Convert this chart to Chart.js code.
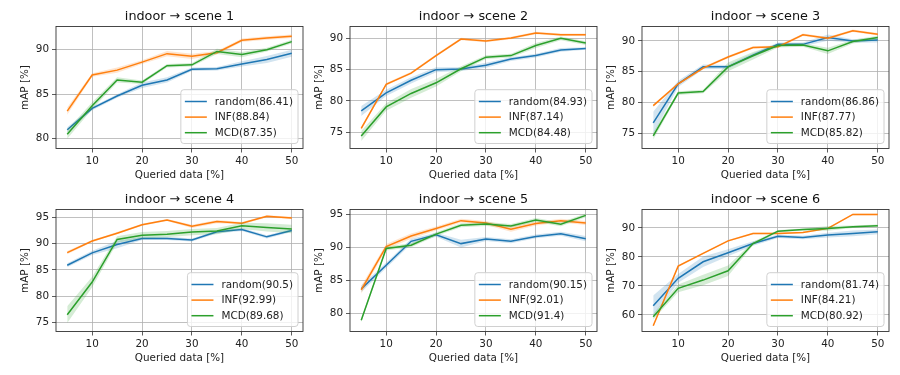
<!DOCTYPE html>
<html>
<head>
<meta charset="utf-8">
<script src="https://cdn.jsdelivr.net/npm/chart.js@4.4.1/dist/chart.umd.min.js"></script>
<style>
  body { margin: 0; background: #fff; width: 900px; height: 375px; position: relative; overflow: hidden; }
  canvas { position: absolute; }
</style>
</head>
<body>
<canvas id="c1" width="311" height="184" style="left:0px;top:0px"></canvas>
<canvas id="c2" width="311" height="184" style="left:294px;top:0px"></canvas>
<canvas id="c3" width="311" height="184" style="left:586px;top:0px"></canvas>
<canvas id="c4" width="311" height="184" style="left:0px;top:183px"></canvas>
<canvas id="c5" width="311" height="184" style="left:294px;top:183px"></canvas>
<canvas id="c6" width="311" height="184" style="left:586px;top:183px"></canvas>
<script>
// x values and labels shared by all panels
const queried = [5, 10, 15, 20, 25, 30, 35, 40, 45, 50];
const xTicks = [10, 20, 30, 40, 50];
const methods = ['random', 'INF', 'MCD'];
const colors = ['#1f77b4', '#ff7f0e', '#2ca02c'];

// scene 1
const random1 = [81.0, 83.4, 84.8, 86.0, 86.6, 87.8, 87.85, 88.4, 88.9, 89.6];
const inf1 = [83.1, 87.15, 87.7, 88.6, 89.55, 89.25, 89.65, 91.05, 91.3, 91.5];
const mcd1 = [80.5, 83.7, 86.6, 86.35, 88.2, 88.3, 89.8, 89.45, 90.0, 90.9];
const randomStd1 = [0.3, 0.2, 0.2, 0.3, 0.3, 0.2, 0.2, 0.3, 0.4, 0.4];
const infStd1 = [0.4, 0.2, 0.3, 0.2, 0.3, 0.3, 0.2, 0.2, 0.2, 0.2];
const mcdStd1 = [0.5, 0.4, 0.3, 0.2, 0.2, 0.2, 0.3, 0.3, 0.2, 0.2];
const scores1 = [86.41, 88.84, 87.35];
const yTicks1 = [80, 85, 90];

// scene 2
const random2 = [78.4, 81.3, 83.3, 85.0, 85.1, 85.7, 86.7, 87.25, 88.15, 88.4];
const inf2 = [75.6, 82.65, 84.45, 87.25, 89.9, 89.6, 90.05, 90.85, 90.6, 90.6];
const mcd2 = [74.4, 79.05, 81.2, 82.9, 85.15, 87.0, 87.25, 88.85, 90.0, 89.25];
const randomStd2 = [0.8, 0.5, 0.5, 0.4, 0.3, 0.4, 0.3, 0.3, 0.3, 0.2];
const infStd2 = [0.3, 0.2, 0.2, 0.2, 0.2, 0.2, 0.2, 0.2, 0.2, 0.2];
const mcdStd2 = [0.8, 0.6, 0.7, 0.6, 0.4, 0.3, 0.3, 0.4, 0.3, 0.3];
const scores2 = [84.93, 87.14, 84.48];
const yTicks2 = [75, 80, 85, 90];

// scene 3
const random3 = [76.7, 83.05, 85.8, 85.8, 87.7, 89.45, 89.45, 90.55, 90.0, 90.15];
const inf3 = [79.5, 83.05, 85.6, 87.4, 88.95, 89.05, 91.0, 90.45, 91.65, 91.1];
const mcd3 = [74.6, 81.55, 81.8, 85.8, 87.6, 89.25, 89.35, 88.4, 89.9, 90.55];
const randomStd3 = [1.8, 0.5, 0.4, 0.3, 0.3, 0.3, 0.3, 0.5, 0.3, 0.4];
const infStd3 = [0.2, 0.2, 0.2, 0.2, 0.2, 0.2, 0.2, 0.2, 0.2, 0.2];
const mcdStd3 = [0.6, 0.3, 0.3, 0.7, 0.6, 0.3, 0.3, 0.5, 0.3, 0.3];
const scores3 = [86.86, 87.77, 85.82];
const yTicks3 = [75, 80, 85, 90];

// scene 4
const random4 = [85.9, 88.25, 89.85, 91.0, 91.0, 90.7, 92.25, 92.7, 91.3, 92.5];
const inf4 = [88.3, 90.5, 92.0, 93.6, 94.5, 93.3, 94.2, 93.9, 95.2, 94.9];
const mcd4 = [76.5, 82.7, 90.8, 91.6, 91.8, 92.2, 92.4, 93.4, 93.1, 92.8];
const randomStd4 = [0.4, 0.4, 0.7, 0.3, 0.3, 0.3, 0.3, 0.3, 0.3, 0.3];
const infStd4 = [0.3, 0.2, 0.2, 0.2, 0.2, 0.3, 0.3, 0.2, 0.2, 0.2];
const mcdStd4 = [1.6, 1.0, 0.6, 0.6, 0.6, 0.6, 0.6, 0.6, 0.8, 0.8];
const scores4 = [90.5, 92.99, 89.68];
const yTicks4 = [75, 80, 85, 90, 95];

// scene 5
const random5 = [83.7, 87.3, 90.95, 91.95, 90.6, 91.3, 90.95, 91.7, 92.1, 91.35];
const inf5 = [83.55, 90.15, 91.75, 92.9, 94.1, 93.75, 92.8, 93.65, 94.1, 93.75];
const mcd5 = [78.9, 89.85, 90.35, 92.05, 93.4, 93.6, 93.3, 94.2, 93.55, 94.9];
const randomStd5 = [0.5, 0.4, 0.4, 0.3, 0.6, 0.3, 0.3, 0.3, 0.3, 0.4];
const infStd5 = [0.6, 0.4, 0.4, 0.3, 0.3, 0.3, 0.4, 0.3, 0.3, 0.3];
const mcdStd5 = [0.3, 0.3, 0.3, 0.3, 0.3, 0.3, 0.3, 0.3, 0.3, 0.3];
const scores5 = [90.15, 92.01, 91.4];
const yTicks5 = [80, 85, 90, 95];

// scene 6
const random6 = [63.2, 72.6, 78.3, 81.4, 84.6, 87.1, 86.7, 87.5, 88.05, 88.6];
const inf6 = [56.3, 76.8, 81.2, 85.5, 88.05, 88.05, 88.4, 89.8, 94.6, 94.6];
const mcd6 = [59.4, 69.15, 72.0, 75.2, 84.6, 88.85, 89.4, 89.8, 90.35, 90.7];
const randomStd6 = [3.5, 1.5, 1.8, 1.2, 0.8, 0.6, 0.6, 0.8, 1.0, 0.8];
const infStd6 = [0.3, 0.3, 0.3, 0.3, 0.3, 0.3, 0.3, 0.3, 0.3, 0.3];
const mcdStd6 = [1.0, 1.3, 1.8, 1.8, 0.6, 0.4, 0.4, 0.8, 0.4, 0.4];
const scores6 = [81.74, 84.21, 80.92];
const yTicks6 = [60, 70, 80, 90];

const panels = [
  { id: 'c1', title: 'indoor → scene 1', means: [random1, inf1, mcd1], stds: [randomStd1, infStd1, mcdStd1], scores: scores1, yTicks: yTicks1, yMin: 78.9, yMax: 92.6 },
  { id: 'c2', title: 'indoor → scene 2', means: [random2, inf2, mcd2], stds: [randomStd2, infStd2, mcdStd2], scores: scores2, yTicks: yTicks2, yMin: 72.4, yMax: 91.9 },
  { id: 'c3', title: 'indoor → scene 3', means: [random3, inf3, mcd3], stds: [randomStd3, infStd3, mcdStd3], scores: scores3, yTicks: yTicks3, yMin: 72.55, yMax: 92.35 },
  { id: 'c4', title: 'indoor → scene 4', means: [random4, inf4, mcd4], stds: [randomStd4, infStd4, mcdStd4], scores: scores4, yTicks: yTicks4, yMin: 73.3, yMax: 96.5 },
  { id: 'c5', title: 'indoor → scene 5', means: [random5, inf5, mcd5], stds: [randomStd5, infStd5, mcdStd5], scores: scores5, yTicks: yTicks5, yMin: 77.2, yMax: 95.8 },
  { id: 'c6', title: 'indoor → scene 6', means: [random6, inf6, mcd6], stds: [randomStd6, infStd6, mcdStd6], scores: scores6, yTicks: yTicks6, yMin: 54.3, yMax: 96.3 },
];

Chart.defaults.font.family = 'DejaVu Sans';
Chart.defaults.font.size = 10.4;
Chart.defaults.color = '#222';

function rgba(hex, a) {
  const n = parseInt(hex.slice(1), 16);
  return `rgba(${n >> 16},${(n >> 8) & 255},${n & 255},${a})`;
}

// black box round the plot area, like matplotlib spines
const framePlugin = {
  id: 'frame',
  afterDraw(chart) {
    const { ctx, chartArea: a } = chart;
    ctx.save();
    ctx.strokeStyle = '#333';
    ctx.lineWidth = 0.9;
    ctx.strokeRect(a.left, a.top, a.right - a.left, a.bottom - a.top);
    ctx.restore();
  }
};

// legend inside the plot, lower right
const boxLegend = {
  id: 'boxLegend',
  afterDatasetsDraw(chart) {
    const { ctx, chartArea: a } = chart;
    const items = chart.data.datasets.filter(d => d.legendIndex !== undefined)
      .sort((p, q) => p.legendIndex - q.legendIndex);
    ctx.save();
    ctx.font = '10.4px "DejaVu Sans"';
    const textW = Math.max(...items.map(d => ctx.measureText(d.label).width));
    const rowH = 15.6;
    const w = 4 + 22 + 8 + textW + 5;
    const h = 8 + rowH * items.length - 1;
    const x = a.right - 5 - w;
    const y = a.bottom - 5 - h;
    ctx.beginPath();
    ctx.roundRect(x, y, w, h, 3);
    ctx.fillStyle = 'rgba(255,255,255,0.8)';
    ctx.fill();
    ctx.strokeStyle = '#d0d0d0';
    ctx.lineWidth = 1;
    ctx.stroke();
    items.forEach((d, i) => {
      const cy = y + 4 + rowH * i + rowH / 2;
      ctx.beginPath();
      ctx.moveTo(x + 4, cy);
      ctx.lineTo(x + 26, cy);
      ctx.strokeStyle = d.borderColor;
      ctx.lineWidth = 1.5;
      ctx.stroke();
      ctx.fillStyle = '#222';
      ctx.textBaseline = 'middle';
      ctx.fillText(d.label, x + 34, cy + 0.5);
    });
    ctx.restore();
  }
};

panels.forEach(p => {
  const datasets = [];
  // matplotlib draws MCD last (on top); Chart.js puts lower indices on top
  for (let i = methods.length - 1; i >= 0; i--) {
    const m = p.means[i], s = p.stds[i];
    datasets.push({
      label: `${methods[i]}(${p.scores[i]})`,
      legendIndex: i,
      data: queried.map((q, j) => ({ x: q, y: m[j] })),
      borderColor: colors[i],
      borderWidth: 1.5,
      pointRadius: 0,
      fill: false
    });
    datasets.push({
      data: queried.map((q, j) => ({ x: q, y: m[j] + s[j] })),
      borderWidth: 0,
      pointRadius: 0,
      fill: false
    });
    datasets.push({
      data: queried.map((q, j) => ({ x: q, y: m[j] - s[j] })),
      borderWidth: 0,
      pointRadius: 0,
      backgroundColor: rgba(colors[i], 0.2),
      fill: '-1'
    });
  }

  new Chart(document.getElementById(p.id), {
    type: 'line',
    data: { datasets },
    plugins: [boxLegend, framePlugin],
    options: {
      responsive: false,
      animation: false,
      devicePixelRatio: 1,
      layout: { padding: { left: 0, top: 0, right: 8, bottom: 0 } },
      plugins: {
        legend: { display: false },
        tooltip: { enabled: false },
        title: {
          display: true,
          fullSize: false,
          text: p.title,
          color: '#111',
          font: { size: 12.8, weight: 'normal' },
          padding: { top: 8.8, bottom: 2.34 }
        }
      },
      scales: {
        x: {
          type: 'linear',
          min: 2.75,
          max: 52.25,
          afterBuildTicks: s => { s.ticks = xTicks.map(v => ({ value: v })); },
          afterFit: s => { s.height = 35.5; },
          ticks: { padding: 3, maxRotation: 0 },
          grid: { color: '#b0b0b0', lineWidth: 0.8, tickColor: '#333', tickLength: 4, tickWidth: 0.8 },
          border: { display: false },
          title: { display: true, text: 'Queried data [%]', padding: { top: 0, bottom: 2.76 } }
        },
        y: {
          min: p.yMin,
          max: p.yMax,
          afterBuildTicks: s => { s.ticks = p.yTicks.map(v => ({ value: v })); },
          afterFit: s => { s.width = 56; },
          ticks: { padding: 3 },
          grid: { color: '#b0b0b0', lineWidth: 0.8, tickColor: '#333', tickLength: 4, tickWidth: 0.8 },
          border: { display: false },
          title: { display: true, text: 'mAP [%]', padding: { top: 18.76, bottom: 0 } }
        }
      }
    }
  });
});
</script>
</body>
</html>
